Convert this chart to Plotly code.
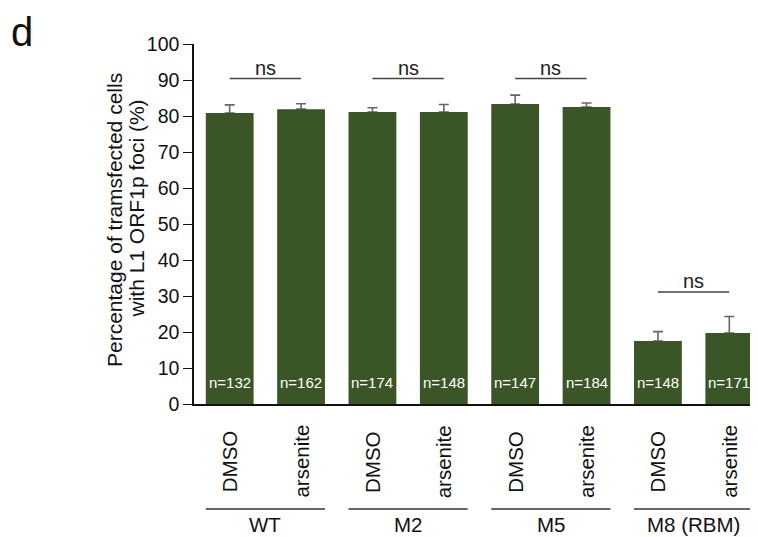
import plotly.graph_objects as go

# ---- data ----
groups = ["WT", "M2", "M5", "M8 (RBM)"]
treatments = ["DMSO", "arsenite"]
values = [80.8, 81.9, 81.1, 81.1, 83.3, 82.5, 17.5, 19.7]
errors = [2.3, 1.5, 1.2, 2.1, 2.5, 1.1, 2.6, 4.6]
n_labels = ["n=132", "n=162", "n=174", "n=148", "n=147", "n=184", "n=148", "n=171"]
sig_labels = ["ns", "ns", "ns", "ns"]
y_ticks = [0, 10, 20, 30, 40, 50, 60, 70, 80, 90, 100]
y_title = ["Percentage of tramsfected cells", "with L1 ORF1p foci (%)"]

FONT = "Liberation Sans, Arial, Helvetica, sans-serif"
BAR_COLOR = "#3A5626"
OFF = 8  # page body margin
W, H = 758 - OFF, 537 - OFF
# plot area in page pixels: x 194..755, y 44..404
PX0, PX1, PY0, PY1 = 194, 755, 44, 404
L, T = PX0 - OFF, PY0 - OFF
R, B = W - (PX1 - OFF), H - (PY1 - OFF)
pw, ph = PX1 - PX0, PY1 - PY0

def px_x(p):
    return (p - PX0) / pw

def px_y(p):
    return (PY1 - p) / ph

xs = list(range(len(values)))
bar_w = 0.67

fig = go.Figure()
# error bars (drawn first so the bars hide their lower cap)
fig.add_trace(go.Bar(
    x=xs, y=values, width=bar_w,
    marker=dict(color="rgba(0,0,0,0)", line=dict(width=0)),
    error_y=dict(type="data", array=errors, arrayminus=[0] * len(errors),
                 symmetric=False, color="#666666", thickness=1.6, width=5),
    showlegend=False, hoverinfo="skip",
))
fig.add_trace(go.Bar(
    x=xs, y=values, width=bar_w,
    marker=dict(color=BAR_COLOR, line=dict(width=0)),
    showlegend=False, hoverinfo="skip",
))

ann = []
shapes = []

# n labels inside bars
for i, t in enumerate(n_labels):
    ann.append(dict(x=i, y=6.1, xref="x", yref="y", text=t, showarrow=False,
                    font=dict(family=FONT, size=15, color="white"),
                    xanchor="center", yanchor="middle"))

# treatment labels (rotated)
for i in xs:
    ann.append(dict(x=i, y=px_y(461.5), xref="x", yref="paper",
                    text=treatments[i % 2], showarrow=False, textangle=-90,
                    font=dict(family=FONT, size=20.5, color="#111111"),
                    xanchor="center", yanchor="middle"))

# group lines, labels, significance
for g, name in enumerate(groups):
    a, b = 2 * g, 2 * g + 1
    shapes.append(dict(type="line", xref="x", yref="paper",
                       x0=a - bar_w / 2, x1=b + bar_w / 2,
                       y0=px_y(509), y1=px_y(509),
                       line=dict(color="#333333", width=1.3)))
    ann.append(dict(x=(a + b) / 2, y=px_y(524), xref="x", yref="paper",
                    text=name, showarrow=False,
                    font=dict(family=FONT, size=20.5, color="#111111"),
                    xanchor="center", yanchor="middle"))
    top = max(values[a] + errors[a], values[b] + errors[b])
    ly = 90.4 if top > 50 else 31.1
    shapes.append(dict(type="line", xref="x", yref="y", x0=a, x1=b,
                       y0=ly, y1=ly, line=dict(color="#444444", width=1.5)))
    ann.append(dict(x=(a + b) / 2, y=ly + 3.0, xref="x", yref="y",
                    text=sig_labels[g], showarrow=False,
                    font=dict(family=FONT, size=20, color="#222222"),
                    xanchor="center", yanchor="middle"))

# y-axis title (two lines)
for txt, cx, cy in zip(y_title, [114, 136], [220, 208.5]):
    ann.append(dict(x=px_x(cx), y=px_y(cy), xref="paper", yref="paper",
                    text=txt, showarrow=False, textangle=-90,
                    font=dict(family=FONT, size=21, color="#111111"),
                    xanchor="center", yanchor="middle"))

# panel letter
ann.append(dict(x=px_x(9), y=px_y(8.5), xref="paper", yref="paper",
                text="d", showarrow=False,
                font=dict(family=FONT, size=40, color="#111111"),
                xanchor="left", yanchor="top"))

fig.update_layout(
    width=W, height=H,
    margin=dict(l=L, r=R, t=T, b=B, pad=0),
    paper_bgcolor="white", plot_bgcolor="white",
    barmode="overlay",
    annotations=ann, shapes=shapes,
    xaxis=dict(range=[-0.5, 7.36], showticklabels=False, ticks="",
               showgrid=False, zeroline=False, showline=True,
               linecolor="#111111", linewidth=1.5),
    yaxis=dict(range=[0, 100], tickvals=y_ticks, ticks="outside", ticklen=9,
               tickwidth=1.3, tickcolor="#111111", showgrid=False,
               zeroline=False, showline=True, linecolor="#111111",
               linewidth=1.5,
               tickfont=dict(family=FONT, size=19.5, color="#111111")),
    font=dict(family=FONT),
)

fig.write_html("out.html")
